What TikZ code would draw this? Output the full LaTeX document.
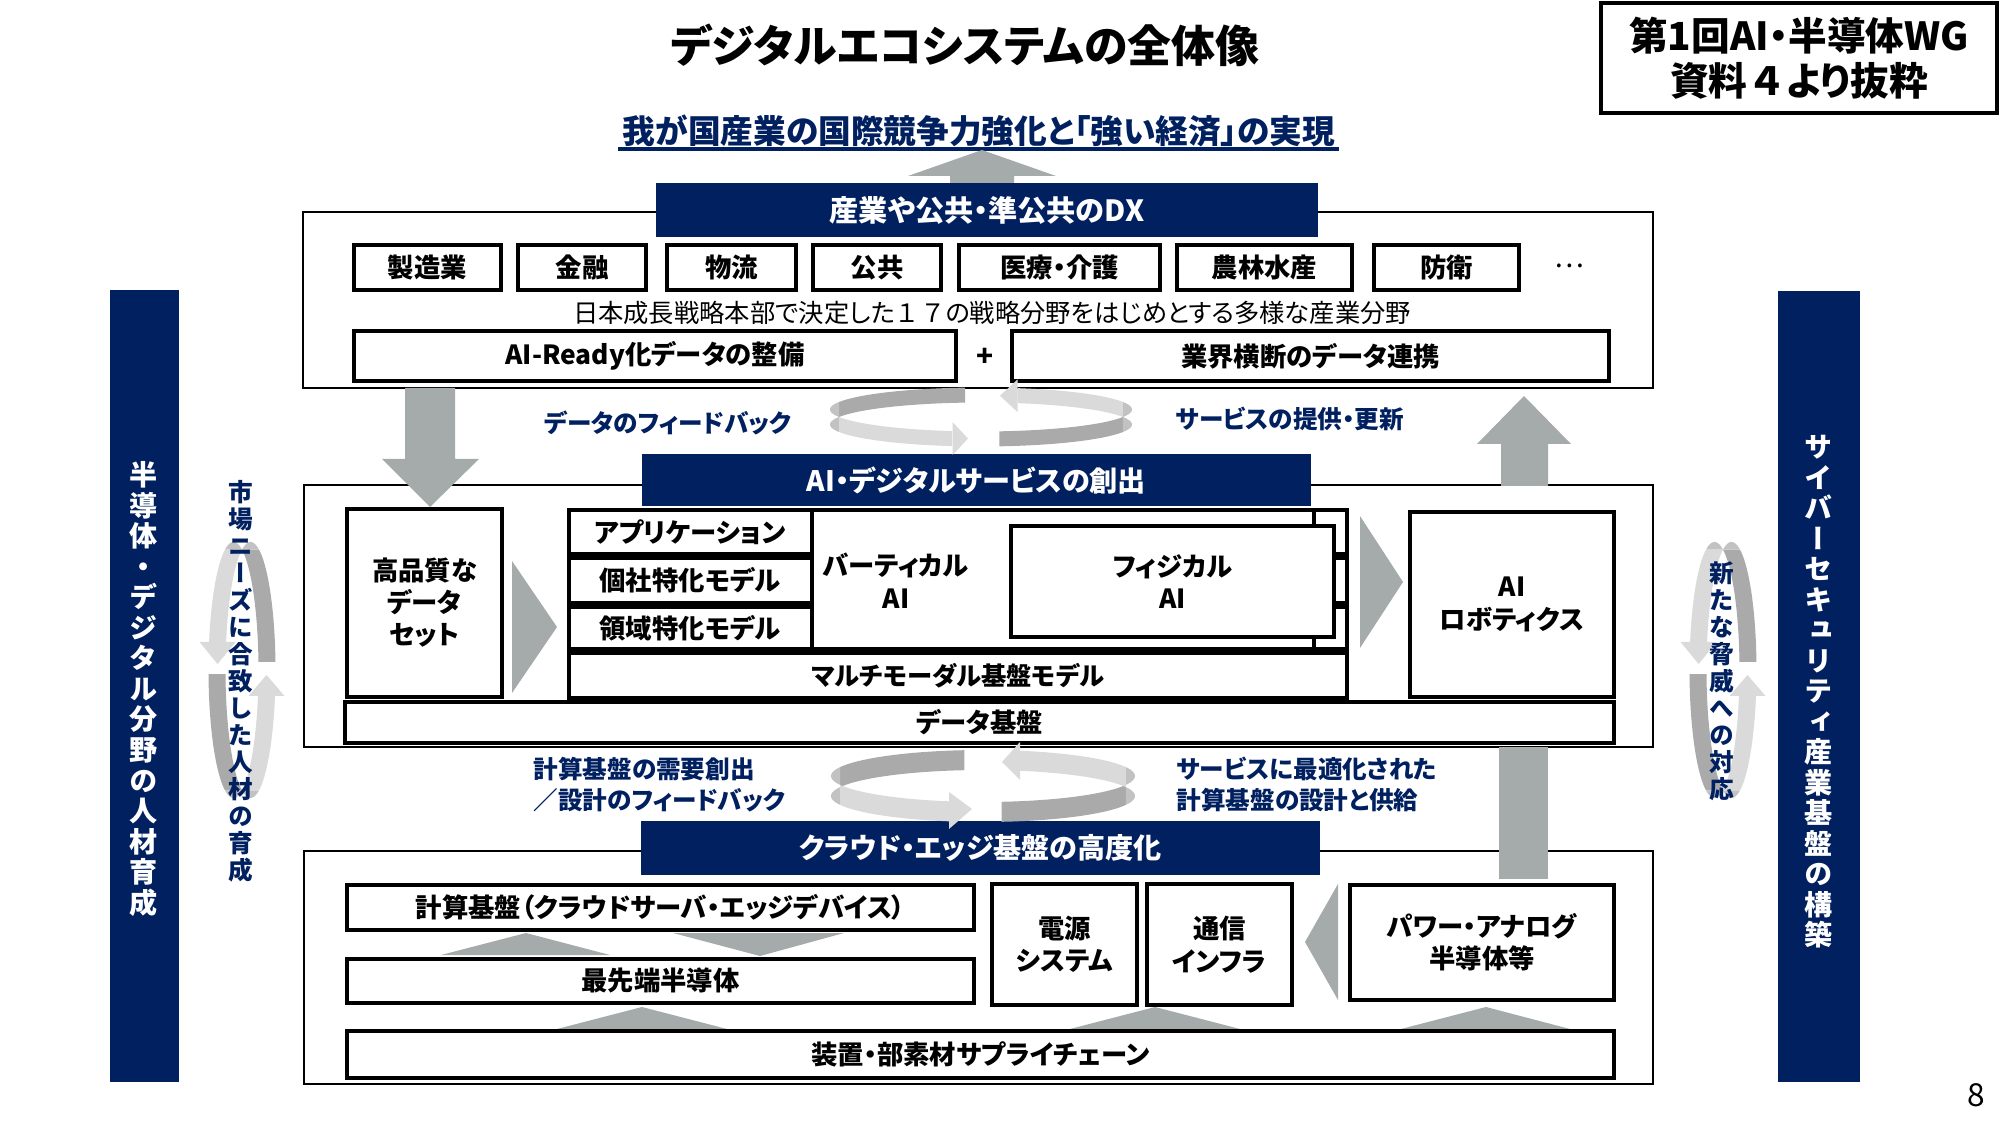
\documentclass[tikz,border=0pt]{standalone}
\usepackage{fontspec}
\setmainfont{Noto Sans CJK JP}[RawFeature=+palt]
\newfontfamily\vjp{Noto Sans CJK JP}[RawFeature=+vert]
\newfontfamily\jpf{Noto Sans CJK JP}
\definecolor{navy}{RGB}{0,32,96}
\definecolor{agray}{RGB}{165,170,170}
\definecolor{rdark}{RGB}{170,170,170}
\definecolor{rmid}{RGB}{194,194,194}
\definecolor{rlight}{RGB}{218,218,218}
\newcommand\bx[7][]{\node[#1, minimum width={(#5-#3)*0.1mm}, minimum height={(#6-#4)*0.1mm}] (#2) at ({(#3+#5)/2},{(#4+#6)/2}) {#7};}
\newcommand\hband[8]{\fill[#1] plot[domain=#7:#8,samples=30,variable=\q] ({#2+#4*cos(\q)},{#3+#5*sin(\q)}) -- plot[domain=#8:#7,samples=30,variable=\q] ({#2+#4*cos(\q)},{#3+#6+#5*sin(\q)}) -- cycle;}
\newcommand\vband[8]{\fill[#1] plot[domain=#7:#8,samples=30,variable=\q] ({#2+#4*cos(\q)},{#3+#5*sin(\q)}) -- plot[domain=#8:#7,samples=30,variable=\q] ({#2+#6+#4*cos(\q)},{#3+#5*sin(\q)}) -- cycle;}
\begin{document}
\begin{tikzpicture}[x=0.1mm,y=-0.1mm,
  ibox/.style={draw=black, line width=1.4pt, fill=white, inner sep=0pt, font=\bfseries\fontsize{7.5}{9.2}\selectfont, align=center},
  secbox/.style={draw=black, line width=0.7pt, inner sep=0pt},
  banner/.style={fill=navy, text=white, inner sep=0pt, font=\bfseries\fontsize{8}{9}\selectfont},
  btext/.style={inner sep=0pt, font=\bfseries\fontsize{7.5}{9.3}\selectfont, align=center},
  lab/.style={inner sep=0pt, text=navy, font=\bfseries\fontsize{7}{8.8}\selectfont, align=left},
  sidebar/.style={fill=navy, inner sep=0pt},
  sidetext/.style={inner sep=0pt, text=white, font=\vjp\bfseries\fontsize{8}{8.68}\selectfont, align=center},
  vlab/.style={inner sep=0pt, text=navy, font=\vjp\bfseries\fontsize{7}{7.68}\selectfont, align=center},
  garrow/.style={fill=agray}
]
\useasboundingbox (0,0) rectangle (2000,1125);
\fill[white] (0,0) rectangle (2000,1125);

% ---- header ----
\node[inner sep=0pt, font=\bfseries\fontsize{12.5}{14}\selectfont] (title) at (965,45) {デジタルエコシステムの全体像};
\bx[draw=black, line width=1.2pt, inner sep=0pt, align=center, font=\bfseries\fontsize{11}{12.8}\selectfont]{src}{1601}{3}{1997}{113}{第1回AI・半導体WG\\資料{\jpf ４}より抜粋}
\node[inner sep=0pt, text=navy, font=\bfseries\fontsize{9.3}{11}\selectfont] (goal) at (979,131) {我が国産業の国際競争力強化と「強い経済」の実現};
\draw[navy, line width=1.1pt] (618,149) -- (1339,149);
\fill[garrow] (908,176) -- (982,150) -- (1056,176) -- (1014,176) -- (1014,185) -- (950,185) -- (950,176) -- cycle;

% ---- top section ----
\bx[secbox]{topsec}{303}{212}{1653}{388}{}
\bx[banner, font=\bfseries\fontsize{8.3}{9}\selectfont]{dx}{656}{183}{1318}{237}{産業や公共・準公共のDX}
\bx[ibox]{i1}{354}{245}{501}{290}{製造業}
\bx[ibox]{i2}{518}{245}{646}{290}{金融}
\bx[ibox]{i3}{667}{245}{796}{290}{物流}
\bx[ibox]{i4}{813}{245}{941}{290}{公共}
\bx[ibox]{i5}{959}{245}{1160}{290}{医療・介護}
\bx[ibox]{i6}{1177}{245}{1352}{290}{農林水産}
\bx[ibox]{i7}{1374}{245}{1519}{290}{防衛}
\node[inner sep=0pt, font=\fontsize{8}{9}\selectfont] (dots) at (1569,266) {…};
\node[inner sep=0pt, font=\fontsize{7.2}{9}\selectfont] (fields) at (992,313) {日本成長戦略本部で決定した{\jpf １７}の戦略分野をはじめとする多様な産業分野};
\bx[ibox]{ready}{354}{331}{956}{381}{AI-Ready化データの整備}
\node[inner sep=0pt, font=\bfseries\fontsize{8}{9}\selectfont] (plus) at (985,357) {+};
\bx[ibox]{link}{1012}{331}{1609}{381}{業界横断のデータ連携}

% ---- middle section ----
\bx[secbox]{midsec}{304}{485}{1653}{747}{}
\fill[garrow] (405,388) -- (455,388) -- (455,459) -- (479,459) -- (430,507) -- (382,459) -- (405,459) -- cycle;
\fill[garrow] (1501,486) -- (1501,444) -- (1477,444) -- (1524,396) -- (1571,444) -- (1548,444) -- (1548,486) -- cycle;
\bx[banner]{aiserv}{642}{454}{1311}{506}{AI・デジタルサービスの創出}
\bx[ibox, font=\bfseries\fontsize{7.5}{9.1}\selectfont]{dataset}{347}{509}{502}{697}{高品質な\\データ\\セット}
\fill[garrow] (512,561) -- (557,627) -- (512,693) -- cycle;
\bx[ibox]{lay1}{569}{510}{1347}{554}{}
\bx[ibox]{lay2}{569}{558}{1347}{603}{}
\bx[ibox]{lay3}{569}{607}{1347}{649}{}
\node[btext] (lay1t) at (690,532) {アプリケーション};
\node[btext] (lay2t) at (690,580) {個社特化モデル};
\node[btext] (lay3t) at (690,628) {領域特化モデル};
\bx[ibox]{vert}{812}{510}{1314}{649}{}
\node[btext] (vertt) at (896,581) {バーティカル\\AI};
\bx[ibox]{phys}{1011}{526}{1334}{637}{フィジカル\\AI}
\bx[ibox, font=\bfseries\fontsize{7.2}{9}\selectfont]{mm}{569}{653}{1347}{698}{マルチモーダル基盤モデル}
\fill[garrow] (1360,516) -- (1403,582) -- (1360,648) -- cycle;
\bx[ibox]{robot}{1410}{512}{1614}{697}{AI\\ロボティクス}
\bx[ibox]{dbase}{345}{702}{1614}{743}{データ基盤}

% ---- lower section ----
\bx[secbox]{lowsec}{304}{851}{1653}{1084}{}
\fill[garrow] (1499,747) rectangle (1548,879);
\bx[banner]{cloud}{641}{821}{1320}{875}{クラウド・エッジ基盤の高度化}
\bx[ibox]{calc}{347}{885}{974}{930}{計算基盤（クラウドサーバ・エッジデバイス）}
\fill[garrow] (441,955) -- (526,933) -- (610,955) -- cycle;
\fill[garrow] (673,933) -- (760,956) -- (844,933) -- cycle;
\bx[ibox]{semi}{347}{959}{974}{1003}{最先端半導体}
\bx[ibox]{power}{992}{884}{1137}{1005}{電源\\システム}
\bx[ibox]{comm}{1147}{884}{1292}{1005}{通信\\インフラ}
\fill[garrow] (1338,884) -- (1305,942) -- (1338,1000) -- cycle;
\bx[ibox]{analog}{1350}{885}{1614}{1000}{パワー・アナログ\\半導体等}
\fill[garrow] (557,1029) -- (642,1007) -- (727,1029) -- cycle;
\fill[garrow] (1070,1029) -- (1155,1007) -- (1240,1029) -- cycle;
\fill[garrow] (1401,1029) -- (1486,1007) -- (1570,1029) -- cycle;
\bx[ibox]{supply}{347}{1031}{1614}{1078}{装置・部素材サプライチェーン}

% ---- side bars ----
\bx[sidebar]{lsb}{110}{290}{179}{1082}{}
\node[sidetext] (lsbt) at (144,689) {半\\導\\体\\・\\デ\\ジ\\タ\\ル\\分\\野\\の\\人\\材\\育\\成};
\bx[sidebar]{rsb}{1778}{291}{1860}{1082}{}
\node[sidetext] (rsbt) at (1819,692) {サ\\イ\\バ\\ー\\セ\\キ\\ュ\\リ\\テ\\ィ\\産\\業\\基\\盤\\の\\構\\築};

% ---- ribbons: upper pair ----
\hband{rdark}{981}{409.5}{151}{22}{15}{-96}{-160}
\hband{rmid}{981}{409.5}{151}{22}{15}{-160}{-200}
\hband{rlight}{981}{409.5}{151}{22}{15}{-200}{-259}
\fill[rlight] (952.5,422) -- (968,438.6) -- (952.5,455) -- cycle;
\hband{rdark}{981}{409.5}{151}{22}{15}{83}{20}
\hband{rmid}{981}{409.5}{151}{22}{15}{20}{-20}
\hband{rlight}{981}{409.5}{151}{22}{15}{-20}{-76}
\fill[rlight] (1017.5,379.5) -- (1000,395.7) -- (1017.5,412) -- cycle;

% ---- ribbons: lower pair ----
\hband{rdark}{983}{776}{152}{26}{20}{-97}{-160}
\hband{rmid}{983}{776}{152}{26}{20}{-160}{-200}
\hband{rlight}{983}{776}{152}{26}{20}{-200}{-257}
\fill[rlight] (949,792) -- (972,809) -- (949,829) -- cycle;
\hband{rdark}{983}{776}{152}{26}{20}{83}{20}
\hband{rmid}{983}{776}{152}{26}{20}{20}{-20}
\hband{rlight}{983}{776}{152}{26}{20}{-20}{-76}
\fill[rlight] (1020,742) -- (1002,762) -- (1020,780) -- cycle;

% ---- ribbons: vertical pairs ----
\foreach \cx in {242,1723}{
  \pgfmathsetmacro\cz{\cx-8.5}
  \vband{rdark}{\cz}{670}{25}{128}{17}{-3.6}{-70}
  \vband{rmid}{\cz}{670}{25}{128}{17}{-70}{-110}
  \vband{rlight}{\cz}{670}{25}{128}{17}{-110}{-167.4}
  \fill[rlight] (\cx-42.4,642) -- (\cx-24.4,664) -- (\cx-6.4,642) -- cycle;
  \vband{rdark}{\cz}{670}{25}{128}{17}{178.2}{110}
  \vband{rmid}{\cz}{670}{25}{128}{17}{110}{70}
  \vband{rlight}{\cz}{670}{25}{128}{17}{70}{11.7}
  \fill[rlight] (\cx+6.5,696) -- (\cx+24.5,675) -- (\cx+42.5,696) -- cycle;
}

% ---- labels ----
\node[lab] (fb1) at (668,423) {データのフィードバック};
\node[lab] (sv1) at (1290,419) {サービスの提供・更新};
\node[lab, anchor=west] (fb2) at (533,785) {計算基盤の需要創出\\／設計のフィードバック};
\node[lab, anchor=west] (sv2) at (1176,784) {サービスに最適化された\\計算基盤の設計と供給};
\node[vlab] (hr) at (241,681) {市\\場\\ニ\\ー\\ズ\\に\\合\\致\\し\\た\\人\\材\\の\\育\\成};
\node[vlab] (thr) at (1722,681) {新\\た\\な\\脅\\威\\へ\\の\\対\\応};
\node[inner sep=0pt, font=\fontsize{9}{10}\selectfont] (pg) at (1976,1095) {8};
\end{tikzpicture}
\end{document}
